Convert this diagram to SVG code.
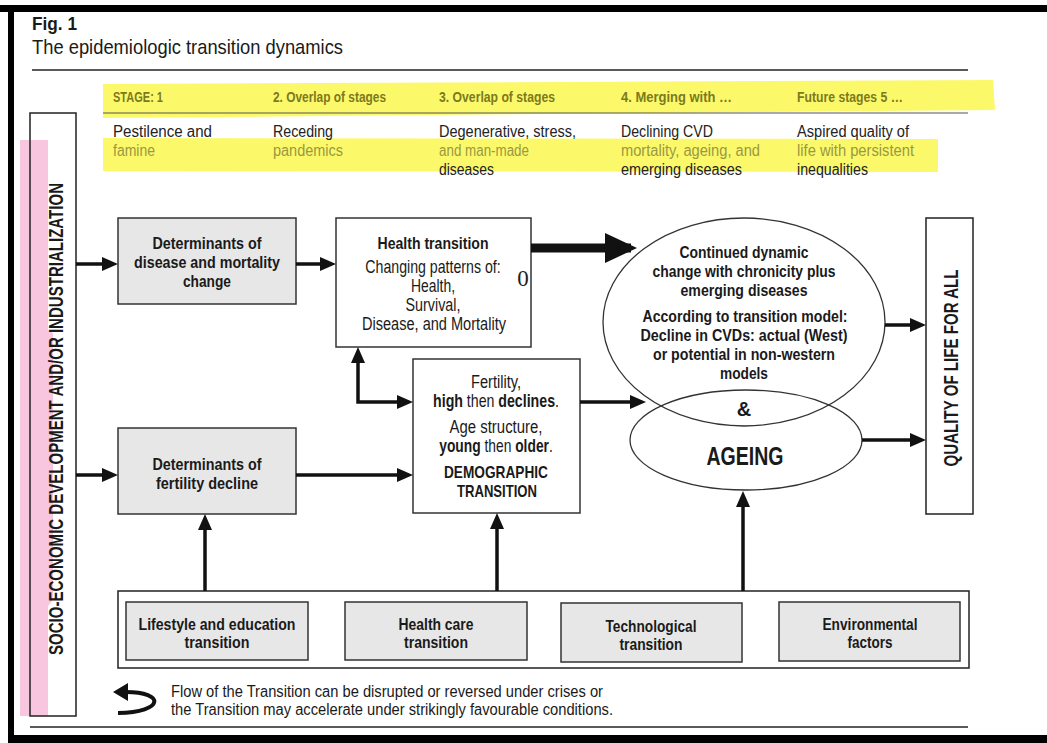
<svg xmlns="http://www.w3.org/2000/svg" width="1047" height="743" viewBox="0 0 1047 743">
<style>
.t{font-family:"Liberation Sans Narrow","Liberation Sans",Arial,sans-serif;fill:#1a1a1a}
.b{font-weight:bold}
.m{text-anchor:middle}
.hd{font-size:15px;font-weight:bold;fill:#7c7a1e}
.r2{font-size:16px;fill:#222}
.r2y{font-size:16px;fill:#9a9840}
.bx{font-size:17px;font-weight:bold}
.rg{font-size:17.5px}
.el{font-size:16px;font-weight:bold}
.gbox{fill:#e7e7e7;stroke:#333;stroke-width:1.5}
.wbox{fill:#fff;stroke:#333;stroke-width:1.5}
.ln{stroke:#111;stroke-width:3.5;fill:none}
.ell{fill:none;stroke:#333;stroke-width:1.3}
</style>
<defs>
<marker id="ah" markerUnits="userSpaceOnUse" markerWidth="16" markerHeight="14" refX="10" refY="7" orient="auto-start-reverse"><path d="M0,0 L16,7 L0,14 Z" fill="#111"/></marker>
<marker id="big" markerUnits="userSpaceOnUse" markerWidth="32" markerHeight="30" refX="26" refY="15" orient="auto"><path d="M0,0 L32,15 L0,30 Z" fill="#111"/></marker>
</defs>
<rect width="1047" height="743" fill="#fff"/>
<!-- frame -->
<rect x="0" y="5" width="1047" height="7" fill="#000"/>
<rect x="8" y="5" width="6" height="738" fill="#000"/>
<rect x="8" y="735" width="1039" height="8" fill="#000"/>
<g id="title">
<text class="t b" x="32" y="30" font-size="19" textLength="45" lengthAdjust="spacingAndGlyphs">Fig. 1</text>
<text class="t" x="32" y="54" font-size="21" textLength="311" lengthAdjust="spacingAndGlyphs">The epidemiologic transition dynamics</text>
<line x1="32" y1="70" x2="968" y2="70" stroke="#222" stroke-width="1.5"/>
<line x1="30" y1="727" x2="968" y2="727" stroke="#222" stroke-width="1.5"/>
</g>
<g id="stages">
<polygon points="103,84 993,80 995,110 103,118" fill="#fbf96a"/>
<polygon points="103,138 938,139 938,172 103,171" fill="#fbf96a"/>
<line x1="103" y1="113" x2="968" y2="113" stroke="#555" stroke-width="1.2"/>
<text class="t hd" x="113" y="102" textLength="50" lengthAdjust="spacingAndGlyphs">STAGE: 1</text>
<text class="t hd" x="273" y="102" textLength="113" lengthAdjust="spacingAndGlyphs">2. Overlap of stages</text>
<text class="t hd" x="439" y="102" textLength="116" lengthAdjust="spacingAndGlyphs">3. Overlap of stages</text>
<text class="t hd" x="621" y="102" textLength="111" lengthAdjust="spacingAndGlyphs">4. Merging with …</text>
<text class="t hd" x="797" y="102" textLength="106" lengthAdjust="spacingAndGlyphs">Future stages 5 …</text>
<text class="t r2" x="113" y="137" textLength="99" lengthAdjust="spacingAndGlyphs">Pestilence and</text>
<text class="t r2y" x="113" y="156" textLength="42" lengthAdjust="spacingAndGlyphs">famine</text>
<text class="t r2" x="273" y="137" textLength="60" lengthAdjust="spacingAndGlyphs">Receding</text>
<text class="t r2y" x="273" y="156" textLength="70" lengthAdjust="spacingAndGlyphs">pandemics</text>
<text class="t r2" x="439" y="137" textLength="137" lengthAdjust="spacingAndGlyphs">Degenerative, stress,</text>
<text class="t r2y" x="439" y="156" textLength="90" lengthAdjust="spacingAndGlyphs">and man-made</text>
<text class="t r2" x="439" y="175" textLength="55" lengthAdjust="spacingAndGlyphs" fill="#444">diseases</text>
<text class="t r2" x="621" y="137" textLength="92" lengthAdjust="spacingAndGlyphs">Declining CVD</text>
<text class="t r2y" x="621" y="156" textLength="139" lengthAdjust="spacingAndGlyphs">mortality, ageing, and</text>
<text class="t r2" x="621" y="175" textLength="121" lengthAdjust="spacingAndGlyphs" fill="#444">emerging diseases</text>
<text class="t r2" x="797" y="137" textLength="112" lengthAdjust="spacingAndGlyphs">Aspired quality of</text>
<text class="t r2y" x="797" y="156" textLength="117" lengthAdjust="spacingAndGlyphs">life with persistent</text>
<text class="t r2" x="797" y="175" textLength="71" lengthAdjust="spacingAndGlyphs" fill="#444">inequalities</text>
</g>
<g id="socio">
<path d="M20 140 L48 140 L48 330 L53 333 L53 600 L48 606 L48 716 L20 716 Z" fill="#f9c6e0"/>
<rect x="30" y="113" width="46" height="603" fill="none" stroke="#222" stroke-width="1.5"/>
<text class="t b m" transform="translate(63,419) rotate(-90)" font-size="20" textLength="472" lengthAdjust="spacingAndGlyphs">SOCIO-ECONOMIC DEVELOPMENT AND/OR INDUSTRIALIZATION</text>
</g>
<g id="det-mortality">
<rect class="gbox" x="118" y="218" width="178" height="86"/>
<text class="t bx m" x="207" y="249" textLength="109" lengthAdjust="spacingAndGlyphs">Determinants of</text>
<text class="t bx m" x="207" y="268" textLength="146" lengthAdjust="spacingAndGlyphs">disease and mortality</text>
<text class="t bx m" x="207" y="287" textLength="48" lengthAdjust="spacingAndGlyphs">change</text>
</g>
<g id="det-fertility">
<rect class="gbox" x="118" y="428" width="178" height="86"/>
<text class="t bx m" x="207" y="470" textLength="109" lengthAdjust="spacingAndGlyphs">Determinants of</text>
<text class="t bx m" x="207" y="489" textLength="102" lengthAdjust="spacingAndGlyphs">fertility decline</text>
</g>
<g id="health">
<rect class="wbox" x="336" y="218" width="195" height="129"/>
<text class="t bx m" x="433" y="249" textLength="111" lengthAdjust="spacingAndGlyphs">Health transition</text>
<text class="t rg m" transform="translate(433,273) scale(0.81,1)">Changing patterns of:</text>
<text class="t rg m" x="433" y="292" textLength="44" lengthAdjust="spacingAndGlyphs">Health,</text>
<text class="t rg m" x="433" y="311" textLength="55" lengthAdjust="spacingAndGlyphs">Survival,</text>
<text class="t rg m" x="434" y="330" textLength="144" lengthAdjust="spacingAndGlyphs">Disease, and Mortality</text>
<text x="523" y="286" font-family="'Liberation Serif',serif" font-size="23" text-anchor="middle" fill="#222">0</text>
</g>
<g id="demographic">
<rect class="wbox" x="413" y="359" width="167" height="154"/>
<text class="t rg m" x="496" y="388" textLength="50" lengthAdjust="spacingAndGlyphs">Fertility,</text>
<text class="t rg m" transform="translate(496,407) scale(0.81,1)"><tspan font-weight="bold">high</tspan> then <tspan font-weight="bold">declines</tspan>.</text>
<text class="t rg m" x="496" y="433" textLength="93" lengthAdjust="spacingAndGlyphs">Age structure,</text>
<text class="t rg m" transform="translate(496,452) scale(0.79,1)"><tspan font-weight="bold">young</tspan> then <tspan font-weight="bold">older</tspan>.</text>
<text class="t bx m" x="496" y="478" textLength="104" lengthAdjust="spacingAndGlyphs">DEMOGRAPHIC</text>
<text class="t bx m" x="497" y="497" textLength="80" lengthAdjust="spacingAndGlyphs">TRANSITION</text>
</g>
<g id="chronic">
<ellipse class="ell" cx="744" cy="322" rx="141" ry="104"/>
<text class="t el m" x="744" y="258" textLength="129" lengthAdjust="spacingAndGlyphs">Continued dynamic</text>
<text class="t el m" x="744" y="277" textLength="183" lengthAdjust="spacingAndGlyphs">change with chronicity plus</text>
<text class="t el m" x="744" y="296" textLength="127" lengthAdjust="spacingAndGlyphs">emerging diseases</text>
<text class="t el m" x="745" y="322" textLength="205" lengthAdjust="spacingAndGlyphs">According to transition model:</text>
<text class="t el m" x="744" y="341" textLength="207" lengthAdjust="spacingAndGlyphs">Decline in CVDs: actual (West)</text>
<text class="t el m" x="744" y="360" textLength="182" lengthAdjust="spacingAndGlyphs">or potential in non-western</text>
<text class="t el m" x="744" y="379" textLength="48" lengthAdjust="spacingAndGlyphs">models</text>
<text class="t b m" x="744" y="416" font-size="20">&amp;</text>
</g>
<g id="ageing">
<ellipse class="ell" cx="746" cy="440" rx="116" ry="50"/>
<text class="t b m" x="745" y="465" font-size="26" textLength="77" lengthAdjust="spacingAndGlyphs">AGEING</text>
</g>
<g id="quality">
<rect x="926" y="218" width="47" height="296" fill="#fff" stroke="#222" stroke-width="1.5"/>
<text class="t b m" transform="translate(958,368) rotate(-90)" font-size="21" textLength="197" lengthAdjust="spacingAndGlyphs">QUALITY OF LIFE FOR ALL</text>
</g>
<g id="factors">
<rect x="118" y="591" width="851" height="77" fill="#fff" stroke="#222" stroke-width="1.5"/>
<rect class="gbox" x="126" y="602" width="182" height="58"/>
<text class="t bx m" x="217" y="630" textLength="157" lengthAdjust="spacingAndGlyphs">Lifestyle and education</text>
<text class="t bx m" x="217" y="648" textLength="65" lengthAdjust="spacingAndGlyphs">transition</text>
<rect class="gbox" x="345" y="602" width="182" height="58"/>
<text class="t bx m" x="436" y="630" textLength="75" lengthAdjust="spacingAndGlyphs">Health care</text>
<text class="t bx m" x="436" y="648" textLength="64" lengthAdjust="spacingAndGlyphs">transition</text>
<rect class="gbox" x="561" y="603" width="181" height="59"/>
<text class="t bx m" x="651" y="632" textLength="91" lengthAdjust="spacingAndGlyphs">Technological</text>
<text class="t bx m" x="651" y="650" textLength="63" lengthAdjust="spacingAndGlyphs">transition</text>
<rect class="gbox" x="779" y="602" width="181" height="59"/>
<text class="t bx m" x="870" y="630" textLength="95" lengthAdjust="spacingAndGlyphs">Environmental</text>
<text class="t bx m" x="870" y="648" textLength="45" lengthAdjust="spacingAndGlyphs">factors</text>
</g>
<g id="connectors">
<path class="ln" d="M76 264 H112" marker-end="url(#ah)"/>
<path class="ln" d="M76 475 H112" marker-end="url(#ah)"/>
<path class="ln" d="M296 264 H330" marker-end="url(#ah)"/>
<path d="M531 248 H631" stroke="#111" stroke-width="9" fill="none" marker-end="url(#big)"/>
<path class="ln" d="M407 402 H358 V353" marker-start="url(#ah)" marker-end="url(#ah)"/>
<path class="ln" d="M296 475 H407" marker-end="url(#ah)"/>
<path class="ln" d="M580 402 H640" marker-end="url(#ah)"/>
<path class="ln" d="M885 325 H920" marker-end="url(#ah)"/>
<path class="ln" d="M862 440 H920" marker-end="url(#ah)"/>
<path class="ln" d="M205 591 V520" marker-end="url(#ah)"/>
<path class="ln" d="M497 591 V519" marker-end="url(#ah)"/>
<path class="ln" d="M743 591 V497" marker-end="url(#ah)"/>
</g>
<g id="note">
<path d="M118 713 C 165 712, 165 692, 126 692" stroke="#111" stroke-width="4" fill="none"/>
<path d="M113 692 L128 683 L128 701 Z" fill="#111"/>
<text class="t" x="171" y="697" font-size="16" textLength="432" lengthAdjust="spacingAndGlyphs">Flow of the Transition can be disrupted or reversed under crises or</text>
<text class="t" x="171" y="715" font-size="16" textLength="442" lengthAdjust="spacingAndGlyphs">the Transition may accelerate under strikingly favourable conditions.</text>
</g>
</svg>
